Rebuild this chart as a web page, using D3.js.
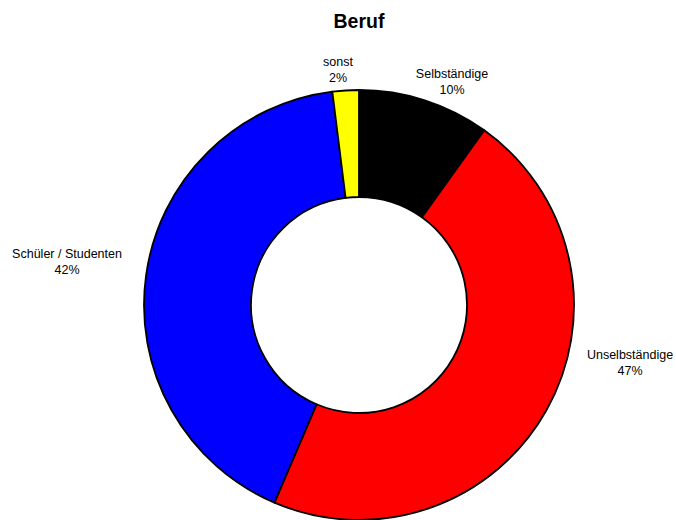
<!DOCTYPE html>
<html>
<head>
<meta charset="utf-8">
<script src="https://cdn.jsdelivr.net/npm/d3@7"></script>
<style>
  html, body { margin: 0; padding: 0; background: #fff; }
  svg { display: block; }
  text { font-family: "Liberation Sans", Arial, sans-serif; fill: #000; }
</style>
</head>
<body>
<svg id="chart" width="676" height="520"></svg>
<script>
// Occupation breakdown (percent), clockwise from 12 o'clock
const categories = ["Selbständige", "Unselbständige", "Schüler / Studenten", "sonst"];
const values = [10, 47, 42, 2];
const colors = ["#000000", "#FF0000", "#0000FF", "#FFFF00"];
const title = "Beruf";

// Layout
const width = 676, height = 520;
const cx = 359, cy = 305;
const outerR = 215, innerR = 108;
const lineGap = 15.5;
// label block centres, relative to the ring centre
const labelOffsets = [
  { dx: 93, dy: -223 },
  { dx: 271, dy: 58 },
  { dx: -292, dy: -43 },
  { dx: -21, dy: -235 }
];

const svg = d3.select("#chart");

svg.append("text")
  .attr("x", cx)
  .attr("y", 28)
  .attr("text-anchor", "middle")
  .style("font-size", "19.5px")
  .style("font-weight", "bold")
  .text(title);

const pie = d3.pie().sort(null).value(d => d.value);
const arc = d3.arc().innerRadius(innerR).outerRadius(outerR);

const data = categories.map((c, i) => ({ name: c, value: values[i], color: colors[i] }));
const arcs = pie(data);

const g = svg.append("g").attr("transform", `translate(${cx},${cy})`);

g.selectAll("path.slice")
  .data(arcs)
  .join("path")
  .attr("class", "slice")
  .attr("d", arc)
  .attr("fill", d => d.data.color)
  .attr("stroke", "#000")
  .attr("stroke-width", 1.8)
  .attr("stroke-linejoin", "round");

const labels = g.selectAll("text.label")
  .data(arcs)
  .join("text")
  .attr("class", "label")
  .attr("text-anchor", "middle")
  .style("font-size", "12.5px")
  .attr("transform", (d, i) => `translate(${labelOffsets[i].dx},${labelOffsets[i].dy})`);

labels.append("tspan")
  .attr("x", 0)
  .attr("y", -lineGap / 2 + 4)
  .text(d => d.data.name);

labels.append("tspan")
  .attr("x", 0)
  .attr("y", lineGap / 2 + 4)
  .text(d => d.data.value + "%");
</script>
</body>
</html>
